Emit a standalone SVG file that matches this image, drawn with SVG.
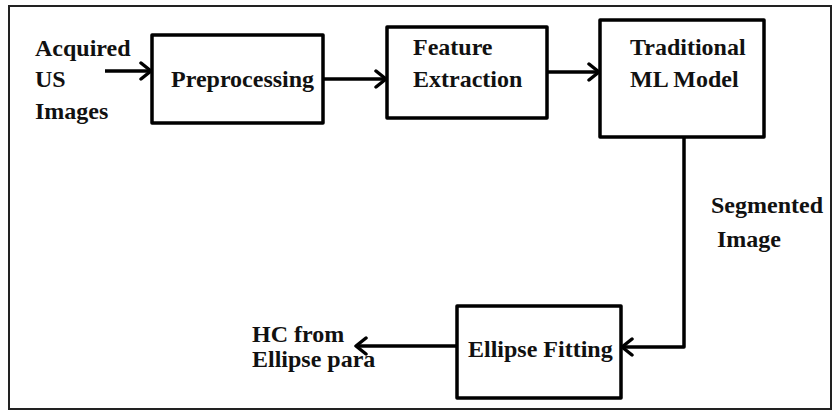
<svg xmlns="http://www.w3.org/2000/svg" width="837" height="414" viewBox="0 0 837 414">
  <style>
    .box { fill: #ffffff; stroke: #000000; stroke-width: 3.5; stroke-linejoin: round; }
    .conn { fill: none; stroke: #000000; stroke-width: 3.5; stroke-linejoin: round; }
    text { font-family: "Liberation Serif", "DejaVu Serif", serif; font-weight: bold; font-size: 24px; fill: #111111; }
  </style>
  <defs>
    <marker id="arr" markerUnits="userSpaceOnUse" viewBox="0 0 14 20" refX="12" refY="10" markerWidth="14" markerHeight="20" orient="auto">
      <path d="M2,2 L12,10 L2,18" fill="none" stroke="#000000" stroke-width="3.5" stroke-linecap="round" stroke-linejoin="round"/>
    </marker>
  </defs>
  <rect x="0" y="0" width="837" height="414" fill="#ffffff"/>
  <rect x="9" y="6" width="822" height="403" fill="none" stroke="#222222" stroke-width="2"/>

  <g id="input-label">
    <text x="35" y="56" style="font-family: 'Liberation Serif', serif">Acquired</text>
    <text x="35" y="87" style="font-family: 'Liberation Serif', serif">US</text>
    <text x="35" y="119" style="font-family: 'Liberation Serif', serif">Images</text>
  </g>

  <g id="preprocessing">
    <rect class="box" x="152" y="35" width="171" height="88"/>
    <text x="171" y="87" style="font-family: 'Liberation Serif', serif">Preprocessing</text>
  </g>

  <g id="feature-extraction">
    <rect class="box" x="387" y="27" width="160" height="91"/>
    <text x="413" y="55" style="font-family: 'Liberation Serif', serif">Feature</text>
    <text x="413" y="87" style="font-family: 'Liberation Serif', serif">Extraction</text>
  </g>

  <g id="traditional-ml">
    <rect class="box" x="600" y="20" width="164" height="117"/>
    <text x="630" y="55" style="font-family: 'Liberation Serif', serif">Traditional</text>
    <text x="630" y="87" style="font-family: 'Liberation Serif', serif">ML Model</text>
  </g>

  <g id="ellipse-fitting">
    <rect class="box" x="457" y="306" width="164" height="92"/>
    <text x="468" y="357" style="font-family: 'Liberation Serif', serif">Ellipse Fitting</text>
  </g>

  <g id="output-label">
    <text x="252" y="342" style="font-family: 'Liberation Serif', serif">HC from</text>
    <text x="252" y="367" style="font-family: 'Liberation Serif', serif">Ellipse para</text>
  </g>

  <g id="segmented-label">
    <text x="711" y="213" style="font-family: 'Liberation Serif', serif">Segmented</text>
    <text x="717" y="247" style="font-family: 'Liberation Serif', serif">Image</text>
  </g>

  <g id="connectors">
    <path class="conn" d="M105,71 L151,71" marker-end="url(#arr)"/>
    <path class="conn" d="M323,79 L386,79" marker-end="url(#arr)"/>
    <path class="conn" d="M547,72 L599,72" marker-end="url(#arr)"/>
    <path class="conn" d="M684,137 L684,347 L622,347" marker-end="url(#arr)"/>
    <path class="conn" d="M457,346 L356,346" marker-end="url(#arr)"/>
  </g>
</svg>
